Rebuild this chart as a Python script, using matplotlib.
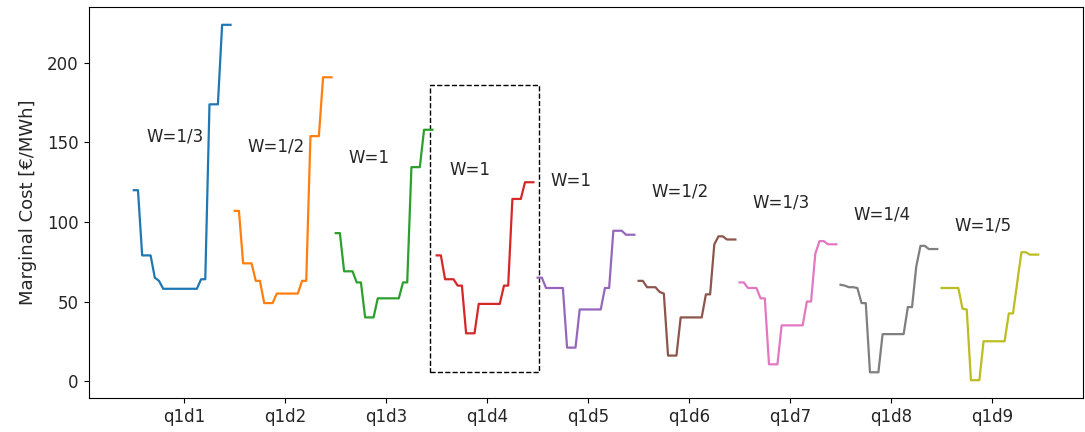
import numpy as np
import matplotlib
matplotlib.use("Agg")
import matplotlib.pyplot as plt
from matplotlib.patches import Rectangle

# Hourly marginal cost profiles (24 h each) for nine days
days = ["q1d1", "q1d2", "q1d3", "q1d4", "q1d5", "q1d6", "q1d7", "q1d8", "q1d9"]
weights = ["W=1/3", "W=1/2", "W=1", "W=1", "W=1", "W=1/2", "W=1/3", "W=1/4", "W=1/5"]

q1d1 = [120, 120, 79, 79, 79, 65, 63, 58, 58, 58, 58, 58, 58, 58, 58, 58,
        64, 64, 174, 174, 174, 224, 224, 224]
q1d2 = [107, 107, 74, 74, 74, 63, 63, 49, 49, 49, 55, 55, 55, 55, 55, 55,
        63, 63, 154, 154, 154, 191, 191, 191]
q1d3 = [93, 93, 69, 69, 69, 62, 62, 40, 40, 40, 52, 52, 52, 52, 52, 52,
        62, 62, 134.5, 134.5, 134.5, 158, 158, 158]
q1d4 = [79, 79, 64, 64, 64, 60, 60, 30, 30, 30, 48.5, 48.5, 48.5, 48.5, 48.5, 48.5,
        60, 60, 114.5, 114.5, 114.5, 125, 125, 125]
q1d5 = [65, 65, 58.5, 58.5, 58.5, 58.5, 58.5, 21, 21, 21, 45, 45, 45, 45, 45, 45,
        58.5, 58.5, 94.5, 94.5, 94.5, 92, 92, 92]
q1d6 = [63, 63, 59, 59, 59, 56, 55, 16, 16, 16, 40, 40, 40, 40, 40, 40,
        54.5, 54.5, 86, 91, 91, 89, 89, 89]
q1d7 = [62, 62, 58.5, 58.5, 58.5, 52, 52, 10.5, 10.5, 10.5, 35, 35, 35, 35, 35, 35,
        50, 50, 80, 88, 88, 86, 86, 86]
q1d8 = [60.5, 60, 59, 59, 58.5, 49, 49, 5.5, 5.5, 5.5, 29.5, 29.5, 29.5, 29.5, 29.5, 29.5,
        46.5, 46.5, 72, 85, 85, 83, 83, 83]
q1d9 = [58.5, 58.5, 58.5, 58.5, 58.5, 45.5, 45, 0.5, 0.5, 0.5, 25, 25, 25, 25, 25, 25,
        42.5, 42.5, 62, 81, 81, 79.5, 79.5, 79.5]

profiles = [q1d1, q1d2, q1d3, q1d4, q1d5, q1d6, q1d7, q1d8, q1d9]

plt.rcParams["font.size"] = 12
plt.rcParams["text.color"] = "#262626"
plt.rcParams["xtick.labelcolor"] = "#262626"
plt.rcParams["ytick.labelcolor"] = "#262626"
plt.rcParams["axes.labelcolor"] = "#262626"

fig = plt.figure(figsize=(10.85, 4.32), dpi=100)
ax = fig.add_axes([0.0816, 0.0787, 0.917, 0.905])

hours = len(q1d1)
for i, prof in enumerate(profiles):
    x = np.arange(hours) + hours * i
    ax.plot(x, prof, color=f"C{i}", lw=1.6)

# weight annotations, stepping down from day to day
label_heights = [154, 147.5, 140, 132.5, 125.5, 119, 112, 105, 97.5]
for i, (w, yh) in enumerate(zip(weights, label_heights)):
    ax.text(hours * i + 3.0, yh, w, ha="left", va="center", fontsize=12)

# highlight the reference day
ax.add_patch(Rectangle((70.5, 5.5), 25.8, 180.5, fill=False,
                       edgecolor="black", linestyle="--", lw=1.0))

ax.set_xticks([hours * i + hours / 2 for i in range(len(days))])
ax.set_xticklabels(days)
ax.set_ylabel("Marginal Cost [€/MWh]", fontsize=13, labelpad=7)

fig.savefig("out.png", dpi=100)
